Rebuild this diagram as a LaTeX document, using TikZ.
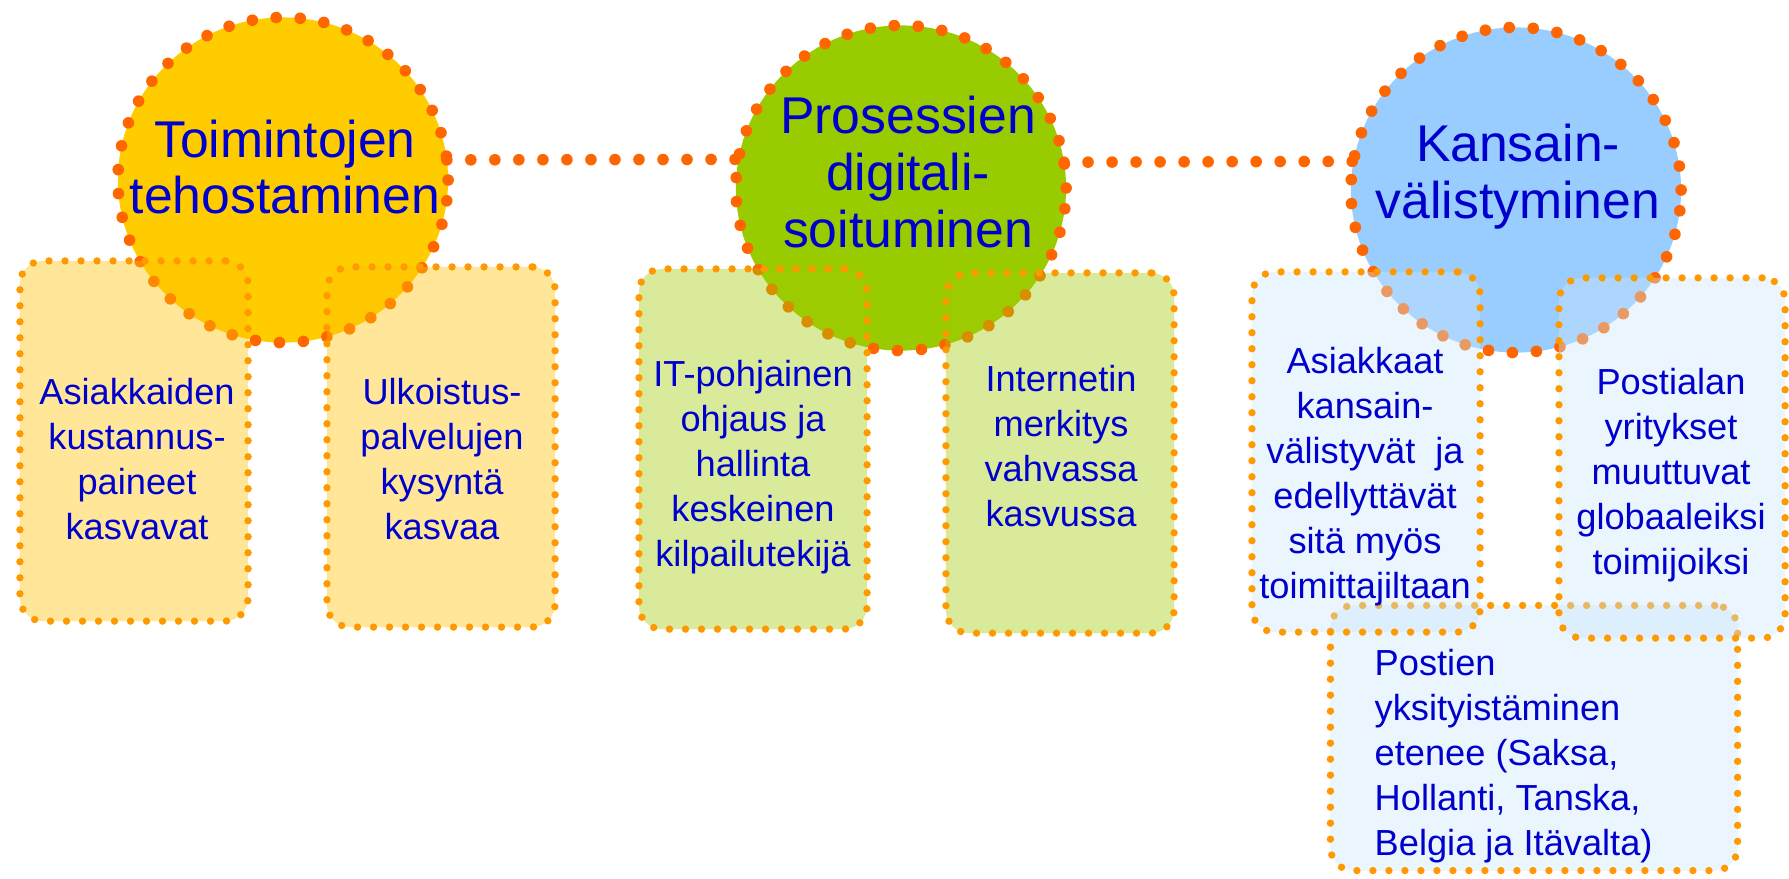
\documentclass[tikz,border=0pt]{standalone}
\usepackage{fontspec}
\setmainfont{Liberation Sans}
\usetikzlibrary{shapes.geometric}

\definecolor{dotorange}{HTML}{FF6600}
\definecolor{edgeorange}{HTML}{FF9900}
\definecolor{txtblue}{HTML}{0000CC}
\definecolor{sunyellow}{HTML}{FFCC00}
\definecolor{leafgreen}{HTML}{99CC00}
\definecolor{skyblue}{HTML}{99CCFF}
\definecolor{paleyellow}{HTML}{FFC000}
\definecolor{palegreen}{HTML}{A0CA02}
\definecolor{paleblue}{HTML}{CAE6FA}

\begin{document}
\begin{tikzpicture}[x=0.01cm, y=-0.01cm,
  bubble/.style={ellipse, draw=dotorange, line width=3.3pt, line cap=round,
    dash pattern=on 0pt off 6.83pt, minimum width=3.30cm, minimum height=3.25cm,
    inner sep=0pt, outer sep=0pt},
  dotline/.style={draw=dotorange, line width=3.3pt, line cap=round,
    dash pattern=on 0pt off 6.83pt},
  card/.style={rectangle, rounded corners=0.23cm, draw=edgeorange, line width=2.1pt,
    line cap=round, dash pattern=on 0pt off 4.55pt, fill opacity=0.4, draw opacity=1,
    minimum width=2.28cm, minimum height=3.60cm, inner sep=0pt},
  bigtext/.style={text=txtblue, align=center, inner sep=0pt,
    font=\fontsize{14.7}{16.2}\selectfont},
  cardtext/.style={text=txtblue, align=center, inner sep=0pt,
    font=\fontsize{10.3}{12.8}\selectfont}]

  \useasboundingbox (0,0) rectangle (1789,878);

  \node[bubble, fill=sunyellow] (c1) at (283,180) {};
  \node[bubble, fill=leafgreen] (c2) at (901,188) {};
  \node[bubble, fill=skyblue] (c3) at (1516,190) {};

  \path[] (c1.7) [dotline] edge (c2.170);
  \path[] (c2.9) [dotline] edge (c3.170);

  \node[card, fill=paleblue, minimum width=4.07cm, minimum height=2.65cm] (g) at (1534,738) {};

  \node[card, fill=paleyellow] (a) at (134,441) {};
  \node[card, fill=paleyellow] (b) at (441,447) {};
  \node[card, fill=palegreen] (c) at (753,449) {};
  \node[card, fill=palegreen] (d) at (1060,453) {};
  \node[card, fill=paleblue] (e) at (1366,452) {};
  \node[card, fill=paleblue, minimum width=2.26cm] (f) at (1672,458) {};

  \node[bigtext] (t1) at (285,167) {Toimintojen\\tehostaminen};
  \node[bigtext] (t2) at (908,172) {Prosessien\\digitali-\\soituminen};
  \node[bigtext] (t3) at (1518,177) {Kansain-\\välistyminen};

  \node[cardtext] (ta) at (137,459) {Asiakkaiden\\kustannus-\\paineet\\kasvavat};
  \node[cardtext] (tb) at (442,459) {Ulkoistus-\\palvelujen\\kysyntä\\kasvaa};
  \node[cardtext] (tc) at (753,467) {IT-pohjainen\\ohjaus ja\\hallinta\\keskeinen\\kilpailutekijä};
  \node[cardtext] (td) at (1061,446) {Internetin\\merkitys\\vahvassa\\kasvussa};
  \node[cardtext] (te) at (1365,477) {Asiakkaat\\kansain-\\välistyvät\ \ ja\\edellyttävät\\sitä myös\\toimittajiltaan};
  \node[cardtext] (tf) at (1671,475) {Postialan\\yritykset\\muuttuvat\\globaaleiksi\\toimijoiksi};
  \node[cardtext, align=left, anchor=west] (tg) at (1374,756) {Postien\\yksityistäminen\\etenee (Saksa,\\Hollanti, Tanska,\\Belgia ja Itävalta)};
\end{tikzpicture}
\end{document}
